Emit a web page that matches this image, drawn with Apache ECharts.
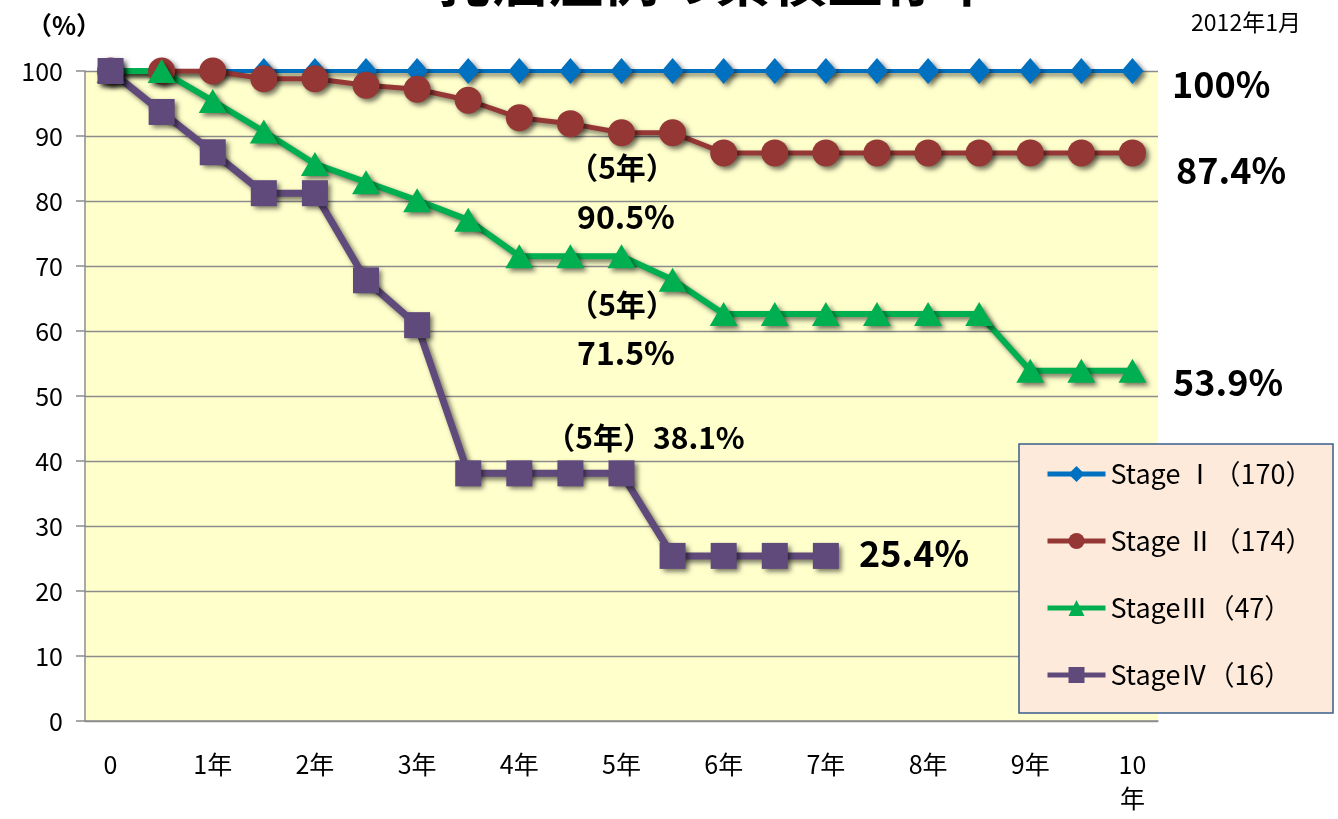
<!DOCTYPE html>
<html>
<head>
<meta charset="utf-8">
<script src="https://cdn.jsdelivr.net/npm/echarts@6/dist/echarts.min.js"></script>
<style>
html,body{margin:0;padding:0;background:#fff;}
#chart{width:1338px;height:819px;}
</style>
</head>
<body>
<div id="chart"></div>
<script>
const categories = ['0','0.5年','1年','1.5年','2年','2.5年','3年','3.5年','4年','4.5年','5年','5.5年','6年','6.5年','7年','7.5年','8年','8.5年','9年','9.5年','10年'];
const seriesNames = ['Stage Ⅰ（170）','Stage Ⅱ（174）','StageⅢ（47）','StageⅣ（16）'];
const stage1 = [100,100,100,100,100,100,100,100,100,100,100,100,100,100,100,100,100,100,100,100,100];
const stage2 = [100,100,100,98.8,98.8,97.8,97.2,95.5,92.8,91.9,90.5,90.5,87.4,87.4,87.4,87.4,87.4,87.4,87.4,87.4,87.4];
const stage3 = [100,100,95.4,90.7,85.7,82.9,80.1,77.1,71.5,71.5,71.5,67.9,62.6,62.6,62.6,62.6,62.6,62.6,53.9,53.9,53.9];
const stage4 = [100,93.7,87.5,81.2,81.2,67.8,60.9,38.1,38.1,38.1,38.1,25.4,25.4,25.4,25.4];
const yTicks = {min:0, max:100, interval:10};

const FONT = '"Noto Sans CJK JP", "Noto Sans", sans-serif';
const colors = ['#0070C0','#953735','#00B050','#604A7B'];
const symbols = ['diamond','circle','triangle','rect'];
const symbolSizes = [[22,26],27,[28,24],26];
const lineWidths = [4,5,6,7];
const datas = [stage1, stage2, stage3, stage4];

const chart = echarts.init(document.getElementById('chart'));
const shadow = {shadowColor:'rgba(0,0,0,0.55)', shadowBlur:5, shadowOffsetX:3, shadowOffsetY:3};

const series = datas.map((d,i)=>({
  name: seriesNames[i],
  type: 'line',
  data: d,
  symbol: symbols[i],
  symbolSize: symbolSizes[i],
  showAllSymbol: true,
  animation: false,
  lineStyle: Object.assign({color: colors[i], width: lineWidths[i]}, shadow),
  itemStyle: Object.assign({color: colors[i]}, shadow)
}));

function txt(x, y, text, size, align, weight){
  return {type:'text', x:x, y:y, z:10, style:{text:text, fontSize:size, fontFamily:FONT, fontWeight:weight||'bold', fill:'#000', align:align||'center', verticalAlign:'middle'}};
}

chart.setOption({
  animation: false,
  grid: {left:85, right:180, top:71, bottom:98, show:true, backgroundColor:'#FFFFCC', borderWidth:0},
  xAxis: {
    type:'category', data: categories, boundaryGap:true,
    axisLine:{lineStyle:{color:'#8c8c8c', width:1.5}},
    axisTick:{interval:0, length:10, lineStyle:{color:'#8c8c8c', width:1.5}},
    axisLabel:{interval:1, margin:26, fontSize:25, fontFamily:FONT, color:'#000', lineHeight:34,
      formatter: v => v === '10年' ? '10\n年' : v}
  },
  yAxis: {
    type:'value', min:yTicks.min, max:yTicks.max, interval:yTicks.interval,
    axisLine:{show:true, lineStyle:{color:'#8c8c8c', width:1.5}},
    axisTick:{show:true, length:9, lineStyle:{color:'#8c8c8c', width:1.5}},
    axisLabel:{margin:22, fontSize:25, fontFamily:FONT, color:'#000'},
    splitLine:{lineStyle:{color:'#8c8c8c', width:1.3}}
  },
  legend: {
    orient:'vertical', left:1045, top:459, padding:0, itemGap:37,
    itemWidth:58, itemHeight:20,
    lineStyle:{width:5},
    textStyle:{fontSize:27, fontFamily:FONT, color:'#000', lineHeight:30},
    data: seriesNames
  },
  graphic: [
    {type:'rect', z:3, shape:{x:1019, y:444, width:314, height:269}, style:{fill:'#FDEADA', stroke:'#385D8A', lineWidth:1.5}},
    txt(715, -20, '乳癌症例の累積生存率', 56, 'center', 'bold'),
    txt(64, 25, '（%）', 25, 'center', 'bold'),
    txt(1246, 22, '2012年1月', 23, 'center', 'normal'),
    txt(1172, 84, '100%', 36, 'left'),
    txt(1176, 170, '87.4%', 36, 'left'),
    txt(1173, 382, '53.9%', 36, 'left'),
    txt(859, 553, '25.4%', 36, 'left'),
    txt(622, 168, '（5年）', 30, 'center'),
    txt(626, 217, '90.5%', 32, 'center'),
    txt(622, 305, '（5年）', 30, 'center'),
    txt(626, 353, '71.5%', 32, 'center'),
    txt(645, 438, '（5年）38.1%', 30, 'center')
  ],
  series: series
});
</script>
</body>
</html>
